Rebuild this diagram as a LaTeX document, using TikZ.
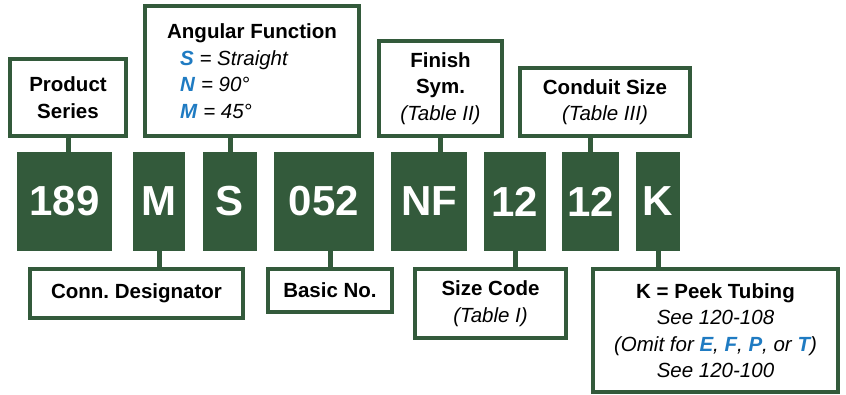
\documentclass[tikz,border=0pt]{standalone}
\usepackage{fontspec}
\setmainfont{Liberation Sans}
\frenchspacing

\definecolor{codegreen}{HTML}{335A3B}
\definecolor{letterblue}{HTML}{1F7BC2}

\tikzset{
  codebox/.style={
    fill=codegreen,
    text=white,
    inner sep=0pt,
    font=\fontsize{42}{42}\selectfont\bfseries,
  },
  infobox/.style={
    draw=codegreen,
    fill=white,
    line width=4pt,
    inner sep=0pt,
    align=center,
    font=\fontsize{20.5}{26.5}\selectfont,
  },
  stem/.style={draw=codegreen, line width=5pt},
}

\newcommand{\blueletter}[1]{\textcolor{letterblue}{\textbf{\textit{#1}}}}

\begin{document}
\begin{tikzpicture}[x=1pt,y=-1pt]
  \useasboundingbox (0,0) rectangle (846,395);

  % the code blocks
  \node[codebox, minimum width=95,  minimum height=99] (c189) at (64.5,201.5) {189};
  \node[codebox, minimum width=52,  minimum height=99] (cm)   at (159,201.5)  {M};
  \node[codebox, minimum width=54,  minimum height=99] (cs)   at (230,201.5)  {S};
  \node[codebox, minimum width=100, minimum height=99] (c052) at (324,201.5)  {052};
  \node[codebox, minimum width=76,  minimum height=99] (cnf)  at (429,201.5)  {NF};
  \node[codebox, minimum width=62,  minimum height=99] (c12a) at (515,201.5)  {12};
  \node[codebox, minimum width=57,  minimum height=99] (c12b) at (590.5,201.5) {12};
  \node[codebox, minimum width=44,  minimum height=99] (ck)   at (658,201.5)  {K};

  % upper boxes
  \node[infobox, minimum width=116, minimum height=77] (series) at (68,97.5)
    {\textbf{Product}\\\textbf{Series}};
  \node[infobox, minimum width=214, minimum height=130, align=left] (angular) at (252,71)
    {\textbf{Angular Function}\\
     \hspace*{13pt}\blueletter{S} \textit{= Straight}\\
     \hspace*{13pt}\blueletter{N} \textit{= 90°}\\
     \hspace*{13pt}\blueletter{M} \textit{= 45°}};
  \node[infobox, minimum width=123, minimum height=95] (finish) at (440.5,88.5)
    {\textbf{Finish}\\\textbf{Sym.}\\\textit{(Table II)}};
  \node[infobox, minimum width=170, minimum height=68] (conduit) at (605,102)
    {\textbf{Conduit Size}\\\textit{(Table III)}};

  % lower boxes
  \node[infobox, minimum width=213, minimum height=49] (designator) at (136.5,293.5)
    {\textbf{Conn. Designator}};
  \node[infobox, minimum width=124, minimum height=43] (basic) at (330,290.5)
    {\textbf{Basic No.}};
  \node[infobox, minimum width=151, minimum height=69] (size) at (490.5,303.5)
    {\textbf{Size Code}\\\textit{(Table I)}};
  \node[infobox, minimum width=245, minimum height=123] (peek) at (715.5,330.5)
    {\textbf{K = Peek Tubing}\\
     \textit{See 120-108}\\
     \textit{(Omit for \blueletter{E}, \blueletter{F}, \blueletter{P}, or \blueletter{T})}\\
     \textit{See 120-100}};

  % connectors
  \draw[stem] (series.south) -- (series.south |- c189.north);
  \draw[stem] (angular.south -| cs.north) -- (cs.north);
  \draw[stem] (finish.south) -- (finish.south |- cnf.north);
  \draw[stem] (conduit.south -| c12b.north) -- (c12b.north);
  \draw[stem] (cm.south) -- (cm.south |- designator.north);
  \draw[stem] (basic.north) -- (basic.north |- c052.south);
  \draw[stem] (c12a.south) -- (c12a.south |- size.north);
  \draw[stem] (ck.south) -- (ck.south |- peek.north);
\end{tikzpicture}
\end{document}
